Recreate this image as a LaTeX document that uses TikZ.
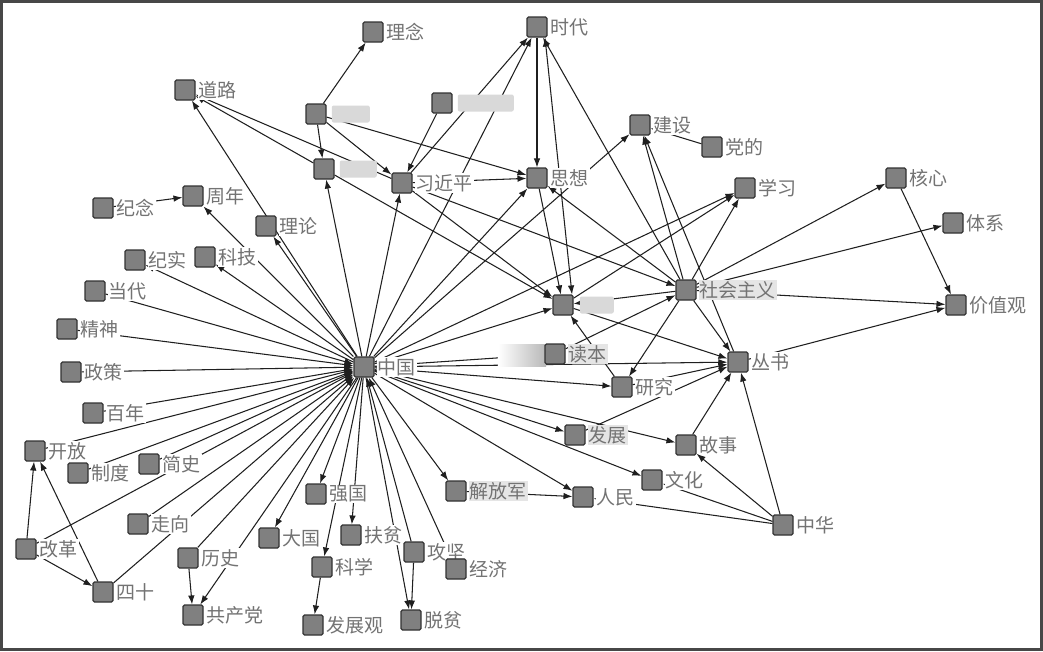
\documentclass[tikz,border=0pt]{standalone}
\usepackage{fontspec}
\newfontfamily\cjk{Noto Sans CJK SC}
\usetikzlibrary{arrows.meta,backgrounds}
\begin{document}
\begin{tikzpicture}[x=1pt,y=-1pt,
  box/.style={rectangle, minimum size=20pt, inner sep=0pt, fill=black!50, draw=black!80, line width=1.1pt, rounded corners=1.5pt},
  lbl/.style={font=\cjk\fontsize{19}{19}\selectfont, text=black!55, fill=white, inner sep=1pt},
  hl/.style={lbl, fill=black!10},
  blur/.style={fill=black!15, rounded corners=2pt, inner sep=0pt, minimum height=17pt, anchor=west},
  edge/.style={line width=1.05pt, draw=black!88, -{Latex[length=9pt,width=6.5pt]}},
  both/.style={line width=1.05pt, draw=black!88, {Latex[length=9pt,width=6.5pt]}-{Latex[length=9pt,width=6.5pt]}},
]
\useasboundingbox (0,0) rectangle (1043,651);
% blurred band left of 读本
\fill[left color=white, right color=black!28] (498,344) rectangle (546,366);

% ---- nodes ----
\node[box,label={[lbl,label distance=2pt]right:理念}] (lini) at (373,32) {};
\node[box,label={[lbl,label distance=2pt]right:道路}] (daolu) at (185,90) {};
\node[box] (A) at (316,114) {};
\node[box] (B) at (324,169) {};
\node[box,label={[lbl,label distance=2pt]right:习近平}] (xi) at (402,183) {};
\node[box] (C) at (442,103) {};
\node[box,label={[lbl,label distance=2pt]right:周年}] (zhounian) at (193,196) {};
\node[box,label={[lbl,label distance=2pt]right:纪念}] (jinian) at (103,208) {};
\node[box,label={[lbl,label distance=2pt]right:理论}] (lilun) at (266,226) {};
\node[box,label={[lbl,label distance=2pt]right:纪实}] (jishi) at (135,260) {};
\node[box,label={[lbl,label distance=2pt]right:科技}] (keji) at (205,257) {};
\node[box,label={[lbl,label distance=2pt]right:当代}] (dangdai) at (95,291) {};
\node[box,label={[lbl,label distance=2pt]right:精神}] (jingshen) at (67,329) {};
\node[box,label={[lbl,label distance=2pt]right:政策}] (zhengce) at (71,372) {};
\node[box,label={[lbl,label distance=2pt]right:百年}] (bainian) at (93,413) {};
\node[box,label={[lbl,label distance=2pt]right:中国}] (zg) at (364,367) {};
\node[box,label={[lbl,label distance=2pt]right:开放}] (kaifang) at (35,451) {};
\node[box,label={[lbl,label distance=2pt]right:制度}] (zhidu) at (78,473) {};
\node[box,label={[lbl,label distance=2pt]right:简史}] (jianshi) at (149,464) {};
\node[box,label={[lbl,label distance=2pt]right:走向}] (zouxiang) at (138,524) {};
\node[box,label={[lbl,label distance=2pt]right:改革}] (gaige) at (26,549) {};
\node[box,label={[lbl,label distance=2pt]right:四十}] (sishi) at (103,592) {};
\node[box,label={[lbl,label distance=2pt]right:历史}] (lishi) at (188,558) {};
\node[box,label={[lbl,label distance=2pt]right:共产党}] (gcd) at (193,615) {};
\node[box,label={[lbl,label distance=2pt]right:大国}] (daguo) at (269,538) {};
\node[box,label={[lbl,label distance=2pt]right:强国}] (qiangguo) at (316,494) {};
\node[box,label={[lbl,label distance=2pt]right:扶贫}] (fupin) at (351,535) {};
\node[box,label={[lbl,label distance=2pt]right:科学}] (kexue) at (322,567) {};
\node[box,label={[lbl,label distance=2pt]right:发展观}] (fzg) at (313,625) {};
\node[box,label={[lbl,label distance=2pt]right:攻坚}] (gongjian) at (414,552) {};
\node[box,label={[lbl,label distance=2pt]right:脱贫}] (tuopin) at (411,620) {};
\node[box,label={[lbl,label distance=2pt]right:经济}] (jingji) at (456,569) {};
\node[box,label={[hl,label distance=2pt]right:解放军}] (jfj) at (456,491) {};
\node[box,label={[hl,label distance=2pt]right:读本}] (duben) at (555,354) {};
\node[box] (tese) at (563,305) {};
\node[box,label={[lbl,label distance=2pt]right:研究}] (yanjiu) at (622,387) {};
\node[box,label={[lbl,label distance=2pt]right:丛书}] (congshu) at (738,362) {};
\node[box,label={[hl,label distance=2pt]right:发展}] (fazhan) at (575,435) {};
\node[box,label={[lbl,label distance=2pt]right:故事}] (gushi) at (686,445) {};
\node[box,label={[lbl,label distance=2pt]right:文化}] (wenhua) at (652,480) {};
\node[box,label={[lbl,label distance=2pt]right:人民}] (renmin) at (583,497) {};
\node[box,label={[lbl,label distance=2pt]right:中华}] (zhonghua) at (783,525) {};
\node[box,label={[lbl,label distance=2pt]right:时代}] (shidai) at (537,27) {};
\node[box,label={[lbl,label distance=2pt]right:建设}] (jianshe) at (640,125) {};
\node[box,label={[lbl,label distance=2pt]right:党的}] (dangde) at (712,147) {};
\node[box,label={[lbl,label distance=2pt]right:思想}] (sixiang) at (537,178) {};
\node[box,label={[lbl,label distance=2pt]right:学习}] (xuexi) at (745,188) {};
\node[box,label={[lbl,label distance=2pt]right:核心}] (hexin) at (896,178) {};
\node[box,label={[lbl,label distance=2pt]right:体系}] (tixi) at (953,223) {};
\node[box,label={[hl,label distance=2pt]right:社会主义}] (shzy) at (686,290) {};
\node[box,label={[lbl,label distance=2pt]right:价值观}] (jzg) at (956,305) {};

% blurred (unreadable) labels
\node[blur, minimum width=38pt] (Alab) at ([xshift=5pt]A.east) {};
\node[blur, minimum width=37pt] (Blab) at ([xshift=5pt]B.east) {};
\node[blur, minimum width=56pt] (Clab) at ([xshift=5pt]C.east) {};
\node[blur, minimum width=34pt] (teselab) at ([xshift=6pt]tese.east) {};

% ---- edges ----
\begin{pgfonlayer}{background}
\fill[white] (0,0) rectangle (1043,651);
\draw[edge] (A) -- (lini);
\draw[edge] (A) -- (B);
\draw[edge] (A) -- (sixiang);
\draw[edge] (A) -- (xi);
\draw[edge] (B) -- (daolu);
\draw[edge] (xi) -- (daolu);
\draw[edge] (zg) -- (daolu);
\draw[edge] (zg) -- (lilun);
\draw[edge] (zg) -- (zhounian);
\draw[edge] (jinian) -- (zhounian);
\draw[edge] (zg) -- (jishi);
\draw[edge] (zg) -- (keji);
\draw[edge] (dangdai) -- (zg);
\draw[edge] (jingshen) -- (zg);
\draw[edge] (zhengce) -- (zg);
\draw[edge] (bainian) -- (zg);
\draw[edge] (kaifang) -- (zg);
\draw[edge] (zhidu) -- (zg);
\draw[edge] (jianshi) -- (zg);
\draw[edge] (gaige) -- (zg);
\draw[edge] (sishi) -- (zg);
\draw[edge] (zouxiang) -- (zg);
\draw[edge] (lishi) -- (zg);
\draw[edge] (zg) -- (gcd);
\draw[edge] (lishi) -- (gcd);
\draw[edge] (gaige) -- (kaifang);
\draw[edge] (sishi) -- (kaifang);
\draw[edge] (gaige) -- (sishi);
\draw[edge] (zg) -- (daguo);
\draw[edge] (zg) -- (qiangguo);
\draw[edge] (zg) -- (kexue);
\draw[edge] (kexue) -- (fzg);
\draw[edge] (zg) -- (fupin);
\draw[edge] (zg) -- (tuopin);
\draw[edge] (gongjian) -- (tuopin);
\draw[edge] (gongjian) -- (zg);
\draw[edge] (jingji) -- (zg);
\draw[edge] (zg) -- (jfj);
\draw[edge] (zg) -- (renmin);
\draw[edge] (jfj) -- (renmin);
\draw[edge] (zhonghua) -- (renmin);
\draw[edge] (zg) -- (wenhua);
\draw[edge] (zhonghua) -- (wenhua);
\draw[edge] (zhonghua) -- (gushi);
\draw[edge] (zhonghua) -- (congshu);
\draw[edge] (zg) -- (gushi);
\draw[edge] (zg) -- (fazhan);
\draw[edge] (fazhan) -- (congshu);
\draw[edge] (gushi) -- (congshu);
\draw[edge] (zg) -- (yanjiu);
\draw[edge] (yanjiu) -- (congshu);
\draw[edge] (zg) -- (congshu);
\draw[edge] (zg) -- (duben);
\draw[edge] (yanjiu) -- (tese);
\draw[edge] (duben) -- (shzy);
\draw[edge] (zg) -- (tese);
\draw[edge] (B) -- (tese);
\draw[edge] (xi) -- (tese);
\draw[edge] (sixiang) -- (tese);
\draw[edge] (shidai) -- (sixiang);
\draw[both] ([xshift=9pt]tese.north) -- ([xshift=8pt]shidai.south);
\draw[edge] (zg) -- (shidai);
\draw[edge] (xi) -- (shidai);
\draw[edge] (C) -- (xi);
\draw[edge] (zg) -- (xi);
\draw[edge] (zg) -- (B);
\draw[edge] (xi) -- (sixiang);
\draw[edge] (zg) -- (sixiang);
\draw[edge] (shzy) -- (sixiang);
\draw[edge] (zg) -- (jianshe);
\draw[edge] (dangde) -- (jianshe);
\draw[edge] (shzy) -- (jianshe);
\draw[edge] (congshu) -- (jianshe);
\draw[edge] (shzy) -- (shidai);
\draw[edge] (shzy) -- (xuexi);
\draw[edge] (zg) -- (xuexi);
\draw[edge] (tese) -- (xuexi);
\draw[edge] (shzy) -- (hexin);
\draw[edge] (shzy) -- (tixi);
\draw[edge] (shzy) -- (jzg);
\draw[edge] (hexin) -- (jzg);
\draw[edge] (congshu) -- (jzg);
\draw[edge] (shzy) -- (congshu);
\draw[edge] (shzy) -- (yanjiu);
\draw[edge] (shzy) -- (tese);
\draw[edge] (tese) -- (congshu);
\draw[edge] (xi) -- (shzy);
\end{pgfonlayer}

% frame
\draw[black!72, line width=3pt] (1.5,1.5) rectangle (1041.5,649.5);
\end{tikzpicture}
\end{document}
